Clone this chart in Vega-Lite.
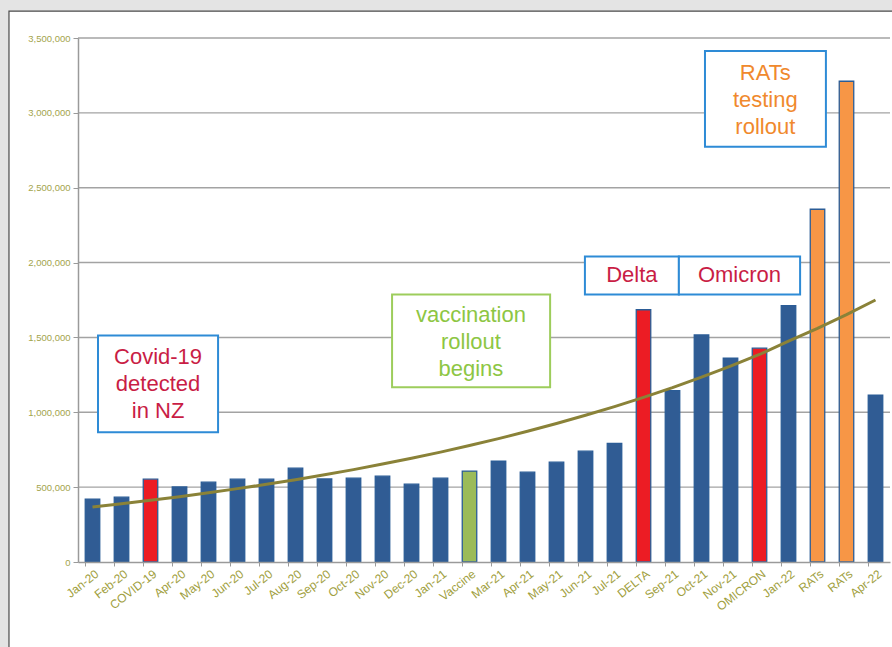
{
  "$schema": "https://vega.github.io/schema/vega-lite/v6.json",
  "width": 812,
  "height": 524,
  "autosize": {"type": "none"},
  "padding": {"left": 78, "top": 38, "right": 2, "bottom": 85},
  "background": "#e4e4e4",
  "config": {
    "view": {"stroke": null},
    "font": "Liberation Sans",
    "axisY": {"labelColor": "#a3a44c", "labelFontSize": 9.5, "tickSize": 5, "tickColor": "#9a9a9a", "domainColor": "#9a9a9a", "domainWidth": 1.5, "labelPadding": 3, "grid": false},
    "axisX": {"labelColor": "#9fa040", "labelFontSize": 12, "tickSize": 4, "tickColor": "#9a9a9a", "domainColor": "#9a9a9a", "domainWidth": 1.5, "labelPadding": 2, "grid": false}
  },
  "datasets": {
    "frame": [{"x1": -2.88, "x2": 40, "y1": 3680000, "y2": -700000}],
    "grid": [{"v": 500000}, {"v": 1000000}, {"v": 1500000}, {"v": 2000000}, {"v": 2500000}, {"v": 3000000}, {"v": 3500000}],
    "months": [
      {"m": "Jan-20", "value": 420000, "phase": "normal", "trend": 367000},
      {"m": "Feb-20", "value": 433000, "phase": "normal", "trend": 389000},
      {"m": "COVID-19", "value": 553000, "phase": "variant", "trend": 412000},
      {"m": "Apr-20", "value": 501000, "phase": "normal", "trend": 436000},
      {"m": "May-20", "value": 533000, "phase": "normal", "trend": 462000},
      {"m": "Jun-20", "value": 553000, "phase": "normal", "trend": 490000},
      {"m": "Jul-20", "value": 553000, "phase": "normal", "trend": 519000},
      {"m": "Aug-20", "value": 627000, "phase": "normal", "trend": 550000},
      {"m": "Sep-20", "value": 555000, "phase": "normal", "trend": 583000},
      {"m": "Oct-20", "value": 560000, "phase": "normal", "trend": 617000},
      {"m": "Nov-20", "value": 573000, "phase": "normal", "trend": 654000},
      {"m": "Dec-20", "value": 520000, "phase": "normal", "trend": 693000},
      {"m": "Jan-21", "value": 560000, "phase": "normal", "trend": 734000},
      {"m": "Vaccine", "value": 607000, "phase": "vaccine", "trend": 778000},
      {"m": "Mar-21", "value": 673000, "phase": "normal", "trend": 824000},
      {"m": "Apr-21", "value": 600000, "phase": "normal", "trend": 873000},
      {"m": "May-21", "value": 667000, "phase": "normal", "trend": 925000},
      {"m": "Jun-21", "value": 740000, "phase": "normal", "trend": 980000},
      {"m": "Jul-21", "value": 793000, "phase": "normal", "trend": 1038000},
      {"m": "DELTA", "value": 1685000, "phase": "variant", "trend": 1100000},
      {"m": "Sep-21", "value": 1145000, "phase": "normal", "trend": 1165000},
      {"m": "Oct-21", "value": 1517000, "phase": "normal", "trend": 1235000},
      {"m": "Nov-21", "value": 1361000, "phase": "normal", "trend": 1308000},
      {"m": "OMICRON", "value": 1428000, "phase": "variant", "trend": 1386000},
      {"m": "Jan-22", "value": 1713000, "phase": "normal", "trend": 1475000},
      {"m": "RATs#1", "value": 2356000, "phase": "rats", "trend": 1560000},
      {"m": "RATs#2", "value": 3211000, "phase": "rats", "trend": 1652000},
      {"m": "Apr-22", "value": 1115000, "phase": "normal", "trend": 1750000}
    ],
    "notes": [
      {"note": "Covid-19\ndetected\nin NZ", "box": "event", "theme": "variant", "x1": 0.19, "x2": 4.33, "y1": 867000, "y2": 1513000, "tx": 2.26, "ty": 1367000},
      {"note": "vaccination\nrollout\nbegins", "box": "vaccine", "theme": "vaccine", "x1": 10.33, "x2": 15.78, "y1": 1167000, "y2": 1787000, "tx": 13.05, "ty": 1653000},
      {"note": "Delta", "box": "event", "theme": "variant", "x1": 16.98, "x2": 20.22, "y1": 1787000, "y2": 2040000, "tx": 18.6, "ty": 1918000},
      {"note": "Omicron", "box": "event", "theme": "variant", "x1": 20.22, "x2": 24.4, "y1": 1787000, "y2": 2040000, "tx": 22.31, "ty": 1918000},
      {"note": "RATs\ntesting\nrollout", "box": "event", "theme": "rats", "x1": 21.12, "x2": 25.29, "y1": 2773000, "y2": 3413000, "tx": 23.2, "ty": 3267000}
    ]
  },
  "layer": [
    {
      "data": {"name": "frame"},
      "mark": {"type": "rect", "fill": "white", "stroke": "#4a4a4a", "strokeWidth": 1.2},
      "encoding": {
        "x": {"field": "x1", "type": "quantitative", "scale": {"domain": [-0.5, 27.5]}, "axis": null},
        "x2": {"field": "x2"},
        "y": {
          "field": "y1", "type": "quantitative", "scale": {"domain": [0, 3500000], "nice": false},
          "axis": {"title": null, "values": [0, 500000, 1000000, 1500000, 2000000, 2500000, 3000000, 3500000], "format": ",d", "zindex": 1}
        },
        "y2": {"field": "y2"}
      }
    },
    {
      "data": {"name": "grid"},
      "mark": {"type": "rule", "color": "#a3a3a3", "strokeWidth": 1.4},
      "encoding": {
        "y": {"field": "v", "type": "quantitative", "scale": {"domain": [0, 3500000], "nice": false},
          "axis": {"title": null, "values": [0, 500000, 1000000, 1500000, 2000000, 2500000, 3000000, 3500000], "format": ",d", "zindex": 1}}
      }
    },
    {
      "data": {"name": "months"},
      "layer": [
        {
          "mark": {"type": "bar", "stroke": "#2b5c96", "strokeWidth": 1.3},
          "encoding": {
            "x": {
              "field": "m", "type": "nominal", "sort": null,
              "scale": {"paddingInner": 0.5, "paddingOuter": 0.25},
              "axis": {
                "title": null, "labelAngle": -38, "labelExpr": "split(datum.label, '#')[0]",
                "bandPosition": 0, "labelOffset": 1.5, "zindex": 1
              }
            },
            "y": {
              "field": "value", "type": "quantitative",
              "scale": {"domain": [0, 3500000], "nice": false},
              "axis": {"title": null, "values": [0, 500000, 1000000, 1500000, 2000000, 2500000, 3000000, 3500000], "format": ",d", "zindex": 1}
            },
            "color": {
              "field": "phase", "type": "nominal", "legend": null,
              "scale": {"domain": ["normal", "variant", "vaccine", "rats"], "range": ["#305c94", "#ec1c24", "#9bbb59", "#f79646"]}
            }
          }
        },
        {
          "mark": {"type": "line", "color": "#8a8238", "strokeWidth": 3},
          "encoding": {
            "x": {"field": "m", "type": "nominal", "sort": null,
              "axis": {
                "title": null, "labelAngle": -38, "labelExpr": "split(datum.label, '#')[0]",
                "bandPosition": 0, "labelOffset": 1.5, "zindex": 1
              }},
            "y": {"field": "trend", "type": "quantitative", "scale": {"domain": [0, 3500000], "nice": false},
              "axis": {"title": null, "values": [0, 500000, 1000000, 1500000, 2000000, 2500000, 3000000, 3500000], "format": ",d", "zindex": 1}}
          }
        }
      ]
    },
    {
      "data": {"name": "notes"},
      "mark": {"type": "rect", "fill": "white", "strokeWidth": 2},
      "encoding": {
        "x": {"field": "x1", "type": "quantitative", "scale": {"domain": [-0.5, 27.5]}, "axis": null},
        "x2": {"field": "x2"},
        "y": {"field": "y1", "type": "quantitative", "scale": {"domain": [0, 3500000], "nice": false},
          "axis": {"title": null, "values": [0, 500000, 1000000, 1500000, 2000000, 2500000, 3000000, 3500000], "format": ",d", "zindex": 1}},
        "y2": {"field": "y2"},
        "stroke": {"field": "box", "type": "nominal", "legend": null, "scale": {"domain": ["event", "vaccine"], "range": ["#2e8bd6", "#9dcd5c"]}}
      }
    },
    {
      "data": {"name": "notes"},
      "mark": {"type": "text", "fontSize": 22, "lineHeight": 27, "lineBreak": "\n", "align": "center", "baseline": "middle", "font": "Liberation Sans"},
      "encoding": {
        "x": {"field": "tx", "type": "quantitative", "scale": {"domain": [-0.5, 27.5]}, "axis": null},
        "y": {"field": "ty", "type": "quantitative", "scale": {"domain": [0, 3500000], "nice": false},
          "axis": {"title": null, "values": [0, 500000, 1000000, 1500000, 2000000, 2500000, 3000000, 3500000], "format": ",d", "zindex": 1}},
        "text": {"field": "note", "type": "nominal"},
        "fill": {"field": "theme", "type": "nominal", "legend": null, "scale": {"domain": ["variant", "vaccine", "rats"], "range": ["#c91d45", "#8dc643", "#f0892d"]}}
      }
    }
  ],
  "resolve": {"scale": {"x": "independent"}}
}
